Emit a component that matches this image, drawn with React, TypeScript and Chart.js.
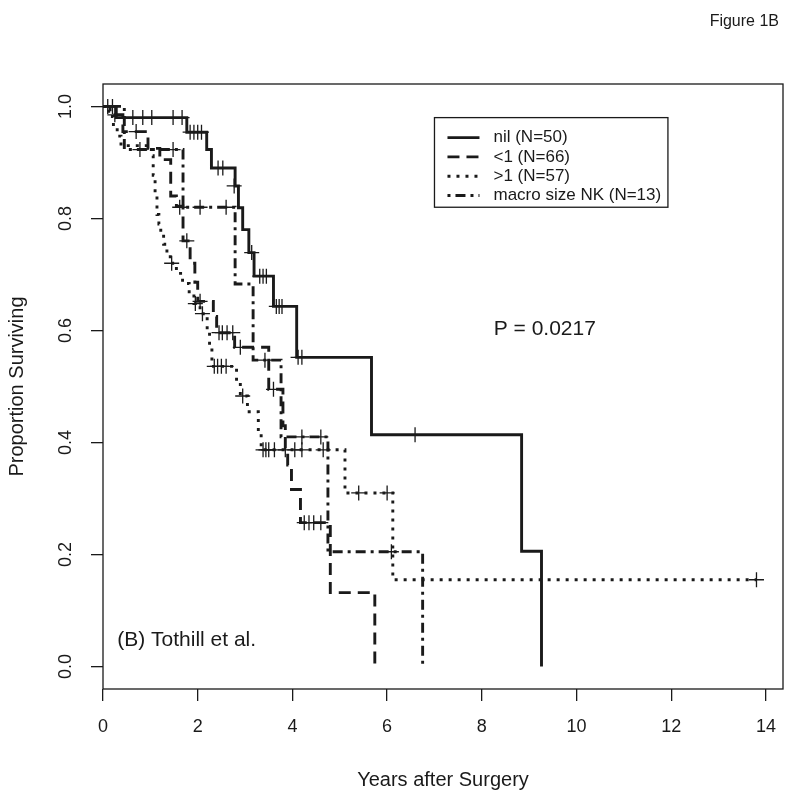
import React, { useEffect, useRef } from "react";
import { Chart, registerables } from "chart.js";

Chart.register(...registerables);

// ---- axis ticks ----
const xTicks = [0, 2, 4, 6, 8, 10, 12, 14];
const yTicks = [0, 0.2, 0.4, 0.6, 0.8, 1.0];

// ---- group labels ----
const groupLabels = ["nil (N=50)", "<1 (N=66)", ">1 (N=57)", "macro size NK (N=13)"];

// ---- nil (solid) ----
const nilT = [0, 0.28, 1.77, 2.19, 2.29, 2.79, 2.86, 2.95, 3.08, 3.19, 3.6, 4.09, 5.67, 8.84, 9.26];
const nilS = [1, 0.98, 0.954, 0.923, 0.89, 0.858, 0.819, 0.78, 0.739, 0.697, 0.643, 0.552, 0.414, 0.206, 0];
const nilCensT = [0.1, 0.2, 0.63, 0.84, 1.03, 1.48, 1.67, 1.84, 1.92, 2.0, 2.08, 2.43, 2.53, 2.77, 3.14, 3.31, 3.38, 3.45, 3.66, 3.72, 3.78, 4.12, 4.2, 6.59];
const nilCensS = [1, 1, 0.98, 0.98, 0.98, 0.98, 0.98, 0.954, 0.954, 0.954, 0.954, 0.89, 0.89, 0.858, 0.739, 0.697, 0.697, 0.697, 0.643, 0.643, 0.643, 0.552, 0.552, 0.414];

// ---- <1 (dashed) ----
const ltT = [0, 0.15, 0.42, 0.95, 1.2, 1.43, 1.55, 1.69, 1.84, 1.94, 2.0, 2.33, 2.4, 2.78, 3.5, 3.8, 3.85, 3.9, 3.98, 4.17, 4.8, 5.74];
const ltS = [1, 0.985, 0.955, 0.925, 0.905, 0.84, 0.822, 0.76, 0.72, 0.686, 0.652, 0.625, 0.596, 0.57, 0.495, 0.43, 0.39, 0.36, 0.316, 0.257, 0.132, 0];
const ltCensT = [0.25, 0.7, 1.77, 2.05, 2.45, 2.52, 2.62, 2.74, 2.9, 3.6, 4.25, 4.35, 4.45, 4.6];
const ltCensS = [0.985, 0.955, 0.76, 0.652, 0.596, 0.596, 0.596, 0.596, 0.57, 0.495, 0.257, 0.257, 0.257, 0.257];

// ---- >1 (dotted) ----
const gtT = [0, 0.12, 0.22, 0.3, 0.38, 1.02, 1.06, 1.1, 1.14, 1.18, 1.22, 1.28, 1.35, 1.42, 1.55, 1.68, 1.82, 1.92, 2.05, 2.2, 2.25, 2.3, 2.82, 2.9, 3.05, 3.28, 3.34, 5.11, 6.12, 13.8];
const gtS = [1, 0.982, 0.965, 0.947, 0.93, 0.912, 0.877, 0.842, 0.807, 0.79, 0.772, 0.754, 0.737, 0.72, 0.702, 0.684, 0.666, 0.648, 0.63, 0.6, 0.57, 0.536, 0.51, 0.483, 0.455, 0.42, 0.387, 0.31, 0.155, 0.155];
const gtCensT = [1.45, 1.95, 2.1, 2.35, 2.42, 2.5, 2.6, 2.95, 3.38, 3.44, 3.5, 3.62, 3.85, 4.05, 4.2, 4.65, 5.4, 6.0, 13.8];
const gtCensS = [0.72, 0.648, 0.63, 0.536, 0.536, 0.536, 0.536, 0.483, 0.387, 0.387, 0.387, 0.387, 0.387, 0.387, 0.387, 0.387, 0.31, 0.31, 0.155];

// ---- macro size NK (dash-dot) ----
const mcT = [0, 0.45, 1.69, 2.79, 3.17, 3.76, 4.75, 6.75];
const mcS = [1, 0.923, 0.82, 0.683, 0.547, 0.41, 0.205, 0];
const mcCensT = [0.78, 1.48, 1.62, 2.05, 2.6, 3.42, 4.2, 4.6, 6.09];
const mcCensS = [0.923, 0.923, 0.82, 0.82, 0.82, 0.547, 0.41, 0.41, 0.205];

// ---- texts ----
const pText = "P = 0.0217";
const sourceText = "(B) Tothill et al.";
const figText = "Figure 1B";
const xTitle = "Years after Surgery";
const yTitle = "Proportion Surviving";

const FONT = "'Liberation Sans', Arial, Helvetica, sans-serif";
const INK = "#1a1a1a";
const DASHES: number[][] = [[], [12, 7], [3, 6], [3, 5, 10, 5]];
const LINE_W = 2.9;

export default function App() {
  const ref = useRef<HTMLCanvasElement>(null);

  useEffect(() => {
    const canvas = ref.current;
    if (!canvas) return;

    const curves = [
      [nilT, nilS],
      [ltT, ltS],
      [gtT, gtS],
      [mcT, mcS],
    ];
    const censors = [
      [nilCensT, nilCensS],
      [ltCensT, ltCensS],
      [gtCensT, gtCensS],
      [mcCensT, mcCensS],
    ];

    const datasets: any[] = [];
    curves.forEach(([t, s], i) => {
      datasets.push({
        type: "line",
        label: groupLabels[i],
        data: t.map((x, j) => ({ x, y: s[j] })),
        stepped: true,
        borderColor: INK,
        borderWidth: LINE_W,
        borderDash: DASHES[i],
        borderCapStyle: "butt",
        pointRadius: 0,
        fill: false,
        tension: 0,
      });
    });
    censors.forEach(([t, s], i) => {
      datasets.push({
        type: "line",
        label: groupLabels[i] + " censored",
        data: t.map((x, j) => ({ x, y: s[j] })),
        showLine: false,
        pointStyle: "cross",
        pointRadius: 7.5,
        pointBorderWidth: 1.3,
        pointBorderColor: INK,
        pointBackgroundColor: INK,
        borderColor: INK,
      });
    });

    const overlay = {
      id: "overlay",
      afterDraw(chart: any) {
        const { ctx, chartArea, scales } = chart;
        const { left, top, right, bottom } = chartArea;
        const xs = scales.x;
        const ys = scales.y;
        ctx.save();
        // plot box
        ctx.strokeStyle = INK;
        ctx.lineWidth = 1.3;
        ctx.setLineDash([]);
        ctx.strokeRect(left, top, right - left, bottom - top);

        // legend
        const lx0 = xs.getPixelForValue(7.0);
        const lx1 = xs.getPixelForValue(11.93);
        const ly0 = ys.getPixelForValue(0.98);
        const ly1 = ys.getPixelForValue(0.82);
        ctx.lineWidth = 1.3;
        ctx.strokeRect(lx0, ly0, lx1 - lx0, ly1 - ly0);
        ctx.font = `17px ${FONT}`;
        ctx.textBaseline = "middle";
        ctx.textAlign = "left";
        ctx.fillStyle = INK;
        groupLabels.forEach((lab, i) => {
          const yy = ly0 + 20 + i * 19.3;
          ctx.save();
          ctx.lineWidth = LINE_W;
          ctx.setLineDash(DASHES[i]);
          ctx.beginPath();
          ctx.moveTo(lx0 + 13, yy);
          ctx.lineTo(lx0 + 45, yy);
          ctx.stroke();
          ctx.restore();
          ctx.fillText(lab, lx0 + 59, yy);
        });

        // P value
        ctx.font = `21px ${FONT}`;
        ctx.textAlign = "center";
        ctx.fillText(pText, xs.getPixelForValue(9.33), ys.getPixelForValue(0.602));

        // source
        ctx.textAlign = "left";
        ctx.fillText(sourceText, xs.getPixelForValue(0.3), ys.getPixelForValue(0.048));

        // figure label
        ctx.font = `16px ${FONT}`;
        ctx.textAlign = "right";
        ctx.fillText(figText, 779, 22);
        ctx.restore();
      },
    };

    const chart = new Chart(canvas, {
      type: "line",
      data: { datasets },
      options: {
        animation: false,
        responsive: false,
        events: [],
        layout: { padding: { top: 84, right: 17, left: 0, bottom: 0 } },
        plugins: { legend: { display: false }, tooltip: { enabled: false } },
        scales: {
          x: {
            type: "linear",
            min: 0,
            max: 14.36,
            afterBuildTicks: (s: any) => {
              s.ticks = xTicks.map((v) => ({ value: v }));
            },
            afterFit: (s: any) => {
              s.height = 111;
            },
            grid: { drawOnChartArea: false, drawTicks: true, tickLength: 12, color: INK, lineWidth: 1.3 },
            border: { display: false },
            ticks: {
              autoSkip: false,
              maxRotation: 0,
              minRotation: 0,
              padding: 15,
              color: INK,
              font: { family: FONT, size: 18 },
              callback: (v: any) => String(v),
            },
            title: {
              display: true,
              text: xTitle,
              color: INK,
              font: { family: FONT, size: 20 },
              padding: { top: 0, bottom: 8 },
            },
          },
          y: {
            type: "linear",
            min: -0.04,
            max: 1.04,
            afterBuildTicks: (s: any) => {
              s.ticks = yTicks.map((v) => ({ value: v }));
            },
            afterFit: (s: any) => {
              s.width = 103;
            },
            grid: { drawOnChartArea: false, drawTicks: true, tickLength: 12, color: INK, lineWidth: 1.3 },
            border: { display: false },
            ticks: {
              minRotation: 90,
              maxRotation: 90,
              crossAlign: "center",
              padding: 12,
              color: INK,
              font: { family: FONT, size: 18 },
              callback: (v: any) => Number(v).toFixed(1),
            },
            title: {
              display: true,
              text: yTitle,
              color: INK,
              font: { family: FONT, size: 20 },
              padding: { top: 5, bottom: 0 },
            },
          },
        },
      } as any,
      plugins: [overlay],
    });

    return () => chart.destroy();
  }, []);

  return (
    <div style={{ position: "fixed", left: 0, top: 0, width: 800, height: 800, background: "#fff" }}>
      <canvas ref={ref} width={800} height={800} style={{ width: 800, height: 800, display: "block" }} />
    </div>
  );
}
